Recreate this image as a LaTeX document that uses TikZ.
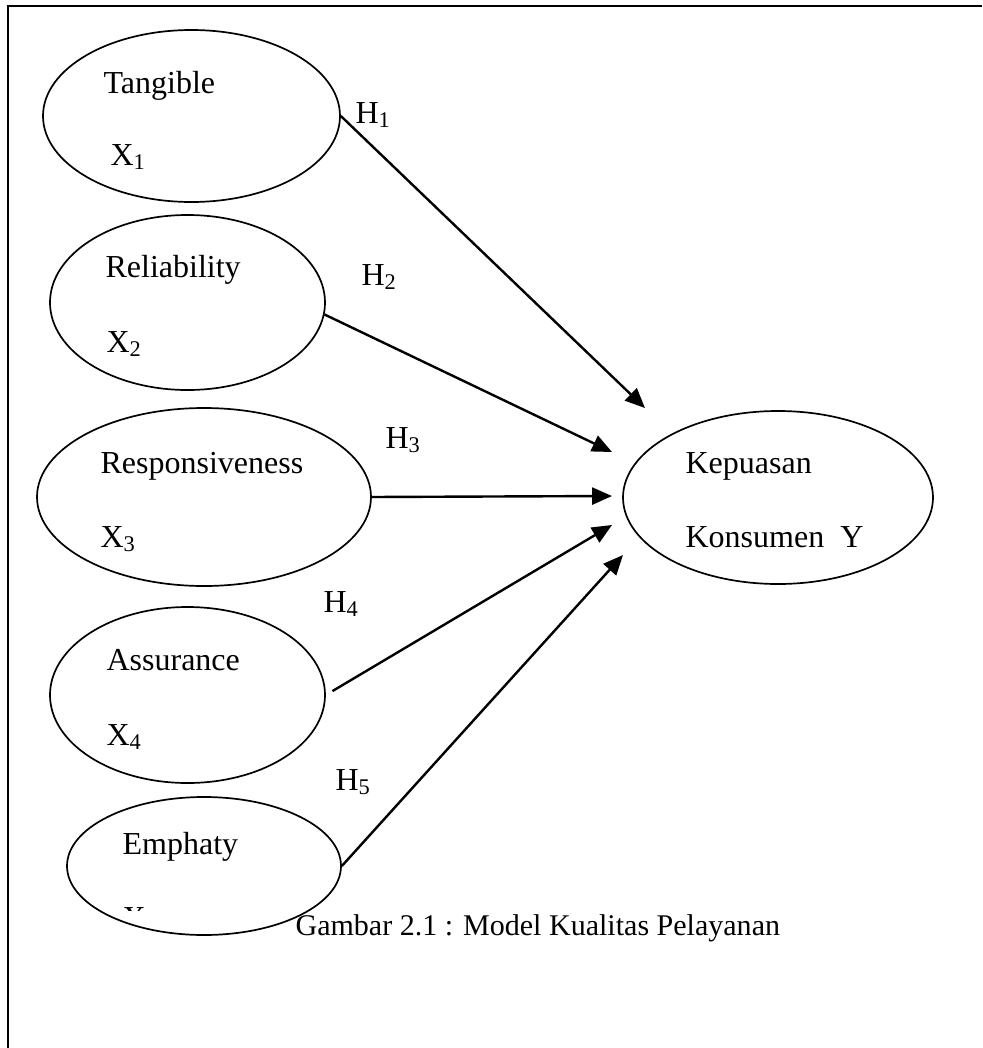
\documentclass[tikz,border=0pt]{standalone}
\usepackage{fontspec}
\setmainfont{Liberation Serif}
\usetikzlibrary{shapes.geometric,arrows.meta}
\begin{document}
\begin{tikzpicture}[x=0.353pt, y=-0.353pt, >={Triangle[length=7pt, width=6pt]},
  elips/.style 2 args={ellipse, draw, line width=0.6pt, inner sep=0pt, minimum width=#1*0.706pt, minimum height=#2*0.706pt},
  teks/.style={anchor=base west, inner sep=0pt, font=\fontsize{11.3}{14}\selectfont},
  panah/.style={->, line width=0.85pt}]

  \useasboundingbox (0,0) rectangle (982,1048);

  % ================= bingkai =================
  \draw[line width=0.8pt] (8,1048) -- (8,6) -- (982,6);

  % ================= variabel X (kiri) =================
  \node[elips={148.5}{86}]   (tan) at (191.5,116) {};
  \node[elips={137.5}{87.5}] (rel) at (187.5,302.5) {};
  \node[elips={167}{89}]     (res) at (204,497) {};
  \node[elips={137.5}{88}]   (asr) at (187.5,695) {};
  \node[elips={137}{69}]     (emp) at (204,866) {};

  \node[teks] (tanA) at (103,93)  {Tangible};
  \node[teks] (tanB) at (110,165) {X\textsubscript{1}};
  \node[teks] (relA) at (105,277) {Reliability};
  \node[teks] (relB) at (106,352) {X\textsubscript{2}};
  \node[teks] (resA) at (100,473) {Responsiveness};
  \node[teks] (resB) at (100,547) {X\textsubscript{3}};
  \node[teks] (asrA) at (106,670) {Assurance};
  \node[teks] (asrB) at (106,745) {X\textsubscript{4}};
  \node[teks] (empA) at (122,854) {Emphaty};
  % X5 terpotong oleh bingkai teks elips
  \begin{scope}
    \clip (100,900) rectangle (160,910.5);
    \node[teks] (empB) at (122,928.5) {X\textsubscript{5}};
  \end{scope}

  % ================= variabel Y (kanan) =================
  \node[elips={155}{86.5}] (kep) at (778,497.5) {};
  \node[teks] (kepA) at (685,473) {Kepuasan};
  \node[teks] (kepB) at (685,547) {Konsumen~~Y};

  % ujung panah
  \coordinate (k1) at (645,408);
  \coordinate (k2) at (612,452);
  \coordinate (k3) at (612,496);
  \coordinate (k4) at (612,525);
  \coordinate (k5) at (623,555);

  % ================= hipotesis =================
  \draw[panah] (tan.east) -- (k1);
  \draw[panah] (rel.-5) -- (k2);
  \draw[panah] (res.east) -- (k3);
  \draw[panah, shorten <=2.7pt] (asr.east) -- (k4);
  \draw[panah] (emp.east) -- (k5);

  \node[teks] (h1) at (355,123) {H\textsubscript{1}};
  \node[teks] (h2) at (361,285) {H\textsubscript{2}};
  \node[teks] (h3) at (385,448) {H\textsubscript{3}};
  \node[teks] (h4) at (323,612) {H\textsubscript{4}};
  \node[teks] (h5) at (335,790) {H\textsubscript{5}};

  % ================= judul =================
  \node[teks, font=\fontsize{10.6}{14}\selectfont] (judul) at (295,935) {Gambar 2.1 : Model Kualitas Pelayanan};

\end{tikzpicture}
\end{document}
